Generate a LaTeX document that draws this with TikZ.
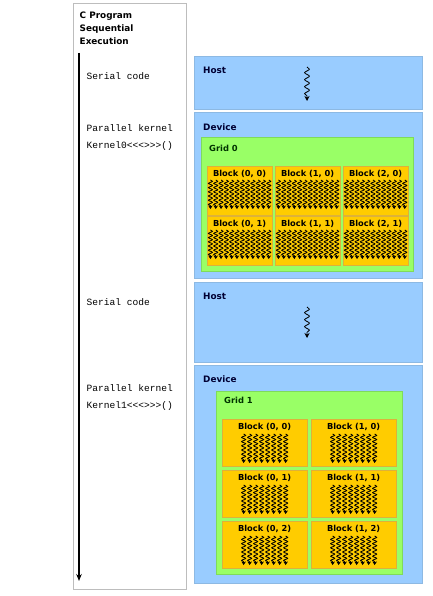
\documentclass[tikz,border=0pt]{standalone}
\usepackage{fontspec}
\setmainfont{DejaVu Sans}
\newfontfamily\monof{Liberation Mono}
\usetikzlibrary{decorations.pathmorphing,arrows.meta,calc}
\definecolor{hostblue}{HTML}{99CCFF}
\definecolor{hostedge}{HTML}{8DB9E3}
\definecolor{gridgreen}{HTML}{99FF66}
\definecolor{gridedge}{HTML}{7FDB5A}
\definecolor{blockgold}{HTML}{FFCC00}
\definecolor{blockedge}{HTML}{DDB23A}
\definecolor{navy}{HTML}{000033}
\definecolor{darkgreen}{HTML}{003300}
\definecolor{progedge}{HTML}{BDBDBD}
\tikzset{
  boxbase/.style={rectangle, inner sep=0pt, anchor=north west, line width=0.8bp},
  progbox/.style={boxbase, draw=progedge, fill=white},
  hostbox/.style={boxbase, draw=hostedge, fill=hostblue},
  gridbox/.style={boxbase, draw=gridedge, fill=gridgreen},
  blockbox/.style={boxbase, draw=blockedge, fill=blockgold},
  title/.style={inner sep=0pt, anchor=north west, align=left, font=\bfseries\fontsize{8.9}{13}\selectfont},
  hostlbl/.style={inner sep=0pt, anchor=west, text=navy, font=\bfseries\fontsize{8.9}{10}\selectfont},
  gridlbl/.style={inner sep=0pt, anchor=west, text=darkgreen, font=\bfseries\fontsize{8.4}{10}\selectfont},
  blocklbl/.style={inner sep=0pt, text=black, font=\bfseries\fontsize{8.3}{10}\selectfont},
  codetxt/.style={inner sep=0pt, anchor=west, font=\monof\fontsize{9.6}{11}\selectfont},
  flowarrow/.style={line width=1.3bp, -{Stealth[length=7bp,width=5.5bp]}},
  thread/.style={decorate, decoration={snake, amplitude=2bp, segment length=4.2bp, post length=2.5bp}, -{Stealth[length=3.5bp,width=4.5bp]}, line width=0.85bp},
  hostthread/.style={decorate, decoration={snake, amplitude=2.4bp, segment length=7bp, post length=3bp}, -{Stealth[length=5bp,width=5bp]}, line width=0.8bp},
}
\begin{document}
\begin{tikzpicture}[x=1bp,y=-1bp]
\useasboundingbox (0,0) rectangle (432,596);
\fill[white] (0,0) rectangle (432,596);

% left program column
\node[progbox, minimum width=113bp, minimum height=585bp] (prog) at (72.5,3.5) {};
\node[title] (progtitle) at (79.5,12) {C Program\\Sequential\\Execution};
\coordinate (arrtop) at (79,53);
\coordinate (arrbot) at (79,581);
\draw[flowarrow] (arrtop) -- (arrbot);
\node[codetxt] (ser1) at (86.5,76) {Serial code};
\node[codetxt] (par1) at (86.5,128) {Parallel kernel};
\node[codetxt] (ker0) at (86.5,146) {Kernel0<<<>>>()};
\node[codetxt] (ser2) at (86.5,302) {Serial code};
\node[codetxt] (par2) at (86.5,388) {Parallel kernel};
\node[codetxt] (ker1) at (86.5,406) {Kernel1<<<>>>()};

% host 1
\node[hostbox, minimum width=228bp, minimum height=53bp] (host1) at (194,56) {};
\node[hostlbl] (host1lbl) at (203,70) {Host};
\coordinate (h1a) at ($(host1.north west)+(113,11)$);
\coordinate (h1b) at ($(host1.north west)+(113,45)$);
\draw[hostthread] (h1a) -- (h1b);

% device 1
\node[hostbox, minimum width=228bp, minimum height=166bp] (dev1) at (194,112) {};
\node[hostlbl] (dev1lbl) at (203,127) {Device};
\node[gridbox, minimum width=212bp, minimum height=134bp] (grid0) at (201,137) {};
\node[gridlbl] (grid0lbl) at (209,148) {Grid 0};
\foreach \c/\lx in {0/207,1/275,2/343}{
  \foreach \r/\ty in {0/166,1/216}{
    \node[blockbox, minimum width=64.5bp, minimum height=48.5bp] (ba\c\r) at (\lx,\ty) {};
    \node[blocklbl] (ba\c\r lbl) at ($(ba\c\r.north)+(0,8)$) {Block (\c, \r)};
    \foreach \i in {0,...,11}{
      \pgfmathsetmacro{\dx}{-29.2+\i*5.3}
      \draw[thread] ($(ba\c\r.north)+(\dx,14)$) -- ($(ba\c\r.north)+(\dx,43)$);
    }
  }
}

% host 2
\node[hostbox, minimum width=228bp, minimum height=80bp] (host2) at (194,282) {};
\node[hostlbl] (host2lbl) at (203,296) {Host};
\coordinate (h2a) at ($(host2.north west)+(113,25)$);
\coordinate (h2b) at ($(host2.north west)+(113,56)$);
\draw[hostthread] (h2a) -- (h2b);

% device 2
\node[hostbox, minimum width=228bp, minimum height=218bp] (dev2) at (194,365) {};
\node[hostlbl] (dev2lbl) at (203,379) {Device};
\node[gridbox, minimum width=186bp, minimum height=183bp] (grid1) at (216,391) {};
\node[gridlbl] (grid1lbl) at (224,400) {Grid 1};
\foreach \c/\lx in {0/222,1/311}{
  \foreach \r/\ty in {0/419,1/470,2/521}{
    \node[blockbox, minimum width=84.5bp, minimum height=47bp] (bb\c\r) at (\lx,\ty) {};
    \node[blocklbl] (bb\c\r lbl) at ($(bb\c\r.north)+(0,8)$) {Block (\c, \r)};
    \foreach \i in {0,...,7}{
      \pgfmathsetmacro{\dx}{-21+\i*6}
      \draw[thread] ($(bb\c\r.north)+(\dx,15)$) -- ($(bb\c\r.north)+(\dx,44)$);
    }
  }
}
\end{tikzpicture}
\end{document}
